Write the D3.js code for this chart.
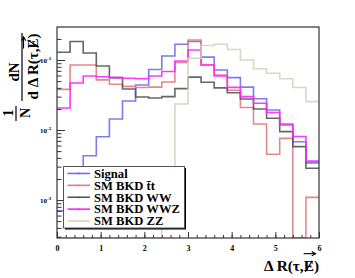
<!DOCTYPE html>
<html>
<head>
<meta charset="utf-8">
<script src="https://cdn.jsdelivr.net/npm/d3@7"></script>
<style>
  body { margin: 0; background: #fff; }
  text { font-family: "Liberation Serif", "Times New Roman", serif; font-weight: bold; }
</style>
</head>
<body>
<script>
// chart size (ROOT canvas look)
const width = 355;
const height = 278;
const frame = {left: 57, right: 319, top: 27, bottom: 238};

// bin low edges of Delta R
const bins = [0, 0.3, 0.6, 0.9, 1.2, 1.5, 1.8, 2.1, 2.4, 2.7,
              3.0, 3.3, 3.6, 3.9, 4.2, 4.5, 4.8, 5.1, 5.4, 5.7];

// normalised 1/N dN/dR (0 = empty bin)
const signal = [7.0e-4, 1.6e-3, 4.3e-3, 8.0e-3, 0.0144, 0.026, 0.044, 0.073, 0.114, 0.168,
                0.184, 0.110, 0.072, 0.056, 0.041, 0.028, 0.0193, 0.0122, 6.8e-3, 3.4e-3];
const ttbar  = [0.038, 0.085, 0.085, 0.052, 0.045, 0.042, 0.0405, 0.041, 0.0485, 0.092,
                0.193, 0.085, 0.061, 0.037, 0.021, 0.0122, 4.5e-3, 7.6e-3, 0, 1.09e-3];
const ww     = [0.129, 0.184, 0.126, 0.082, 0.056, 0.0385, 0.0296, 0.0287, 0.030, 0.039,
                0.057, 0.048, 0.040, 0.034, 0.0277, 0.020, 0.0147, 9.5e-3, 5.8e-3, 2.84e-3];
const wwz    = [0.0206, 0.047, 0.059, 0.0577, 0.056, 0.0548, 0.054, 0.059, 0.0685, 0.097,
                0.139, 0.085, 0.059, 0.0407, 0.030, 0.0241, 0.0178, 0.0118, 8.1e-3, 3.6e-3];
const zz     = [0, 0, 0, 0, 0, 0, 0, 0, 1.0e-3, 0.0235,
                0.106, 0.161, 0.168, 0.141, 0.100, 0.075, 0.0646, 0.054, 0.0405, 0.0254];

const legendNames = ["Signal", "SM BKD t\u0304t", "SM BKD WW", "SM BKD WWZ", "SM BKD ZZ"];
const xTicks = [0, 1, 2, 3, 4, 5, 6];
const yTicks = [1e-3, 1e-2, 1e-1];
const yTickLabels = ["-3", "-2", "-1"];

const series = [
  {name: legendNames[0], values: signal, color: "#6e6ef0"},
  {name: legendNames[1], values: ttbar,  color: "#e07c7c"},
  {name: legendNames[2], values: ww,     color: "#555555"},
  {name: legendNames[3], values: wwz,    color: "#ff22ff"},
  {name: legendNames[4], values: zz,     color: "#d6d1bb"}
];

const svg = d3.select("body").append("svg")
  .attr("width", width)
  .attr("height", height);

svg.append("rect").attr("width", width).attr("height", height).attr("fill", "#fff");

// scales
const x = d3.scaleLinear().domain([0, 6]).range([frame.left, frame.right]);
const y = d3.scaleLog().domain([2.87e-4, 0.296]).range([frame.bottom, frame.top]);

const yv = v => v > 0 ? y(v) : frame.bottom;

// clip for the histograms
svg.append("clipPath").attr("id", "clip")
  .append("rect")
  .attr("x", frame.left).attr("y", frame.top)
  .attr("width", frame.right - frame.left).attr("height", frame.bottom - frame.top);

// histogram steps
const line = d3.line()
  .x(d => x(d[0]))
  .y(d => yv(d[1]))
  .curve(d3.curveStepAfter);

const histG = svg.append("g").attr("clip-path", "url(#clip)");
series.forEach(s => {
  const pts = bins.map((b, i) => [b, s.values[i]]);
  pts.push([6, s.values[s.values.length - 1]]);
  histG.append("path")
    .attr("d", line(pts))
    .attr("fill", "none")
    .attr("stroke", s.color)
    .attr("stroke-width", 1.6)
    .attr("stroke-opacity", 0.9);
});

// x axis, ticks pointing inward
const xMinor = d3.range(0, 6.001, 0.2);
svg.append("g")
  .attr("transform", `translate(0,${frame.bottom})`)
  .call(d3.axisBottom(x).tickValues(xMinor).tickSize(-3).tickFormat(""))
  .call(g => g.select(".domain").remove())
  .call(g => g.selectAll("line").attr("stroke", "#333"));

svg.append("g")
  .attr("transform", `translate(0,${frame.bottom})`)
  .call(d3.axisBottom(x).tickValues(xTicks).tickSize(-6).tickPadding(4).tickFormat(d3.format("d")))
  .call(g => g.select(".domain").remove())
  .call(g => g.selectAll("line").attr("stroke", "#333"))
  .call(g => g.selectAll("text")
      .attr("font-size", 8)
      .attr("font-family", "Liberation Serif")
      .attr("font-weight", "bold")
      .attr("fill", "#000")
      .attr("y", 7));

// y axis (log)
const yMinor = [];
[1e-4, 1e-3, 1e-2, 1e-1].forEach(dec => {
  [2, 3, 4, 5, 6, 7, 8, 9].forEach(m => {
    const v = m * dec;
    if (v >= 2.87e-4 && v <= 0.296) yMinor.push(v);
  });
});
svg.append("g")
  .attr("transform", `translate(${frame.left},0)`)
  .call(d3.axisLeft(y).tickValues(yMinor).tickSize(-4.5).tickFormat(""))
  .call(g => g.select(".domain").remove())
  .call(g => g.selectAll("line").attr("stroke", "#333"));

svg.append("g")
  .attr("transform", `translate(${frame.left},0)`)
  .call(d3.axisLeft(y).tickValues(yTicks).tickSize(-8).tickFormat(""))
  .call(g => g.select(".domain").remove())
  .call(g => g.selectAll("line").attr("stroke", "#333"));

yTicks.forEach((t, i) => {
  const lab = svg.append("text")
    .attr("x", 40)
    .attr("y", y(t) + 2.5)
    .attr("font-size", 7);
  lab.append("tspan").text("10");
  lab.append("tspan").attr("dy", -3).attr("font-size", 5).text(yTickLabels[i]);
});

// frame
svg.append("rect")
  .attr("x", frame.left).attr("y", frame.top)
  .attr("width", frame.right - frame.left).attr("height", frame.bottom - frame.top)
  .attr("fill", "none")
  .attr("stroke", "#333")
  .attr("stroke-width", 1.2);

// E-slash + vector arrow on a text element, char index k
function slashVec(g, textNode, k, arrowGap) {
  const ext = textNode.getExtentOfChar(k);
  const cap = ext.height * 0.6;
  const base = ext.y + ext.height * 0.8;
  g.append("line")
    .attr("x1", ext.x + ext.width * 0.15).attr("y1", base + 1)
    .attr("x2", ext.x + ext.width * 0.85).attr("y2", base - cap - 1)
    .attr("stroke", "#000").attr("stroke-width", 1.1);
  const ay = base - cap - arrowGap;
  const ax0 = ext.x, ax1 = ext.x + ext.width + 1;
  g.append("line")
    .attr("x1", ax0).attr("y1", ay).attr("x2", ax1).attr("y2", ay)
    .attr("stroke", "#000").attr("stroke-width", 1.1);
  g.append("path")
    .attr("d", `M${ax1 - 3},${ay - 2.2} L${ax1 + 0.5},${ay} L${ax1 - 3},${ay + 2.2}`)
    .attr("fill", "none").attr("stroke", "#000").attr("stroke-width", 1.1);
}

// horizontal stretch so the text is targetW wide
function fitWidth(textNode, targetW) {
  const w = textNode.getComputedTextLength();
  return w > 0 ? targetW / w : 1;
}

// x title
const xt = svg.append("g");
const xtText = xt.append("text")
  .attr("x", 0).attr("y", 0)
  .attr("text-anchor", "end")
  .attr("font-size", 14)
  .text("\u0394 R(\u03c4,E)");
xt.attr("transform", `translate(319,271) scale(${fitWidth(xtText.node(), 55)},1)`);
slashVec(xt, xtText.node(), 6, 8);

// y title, rotated
function rot(cx, cy, s) { return `translate(${cx},${cy}) rotate(-90) scale(${s || 1},1)`; }

const g1 = svg.append("g").attr("transform", rot(13, 113));
g1.append("text").attr("text-anchor", "middle").attr("font-size", 14).text("1");
const g2 = svg.append("g").attr("transform", rot(30, 113));
g2.append("text").attr("text-anchor", "middle").attr("font-size", 14).text("N");
svg.append("line").attr("x1", 16).attr("x2", 16).attr("y1", 106).attr("y2", 121)
  .attr("stroke", "#000").attr("stroke-width", 1.2);

const g3 = svg.append("g").attr("transform", rot(19, 72));
g3.append("text").attr("text-anchor", "middle").attr("font-size", 15).text("dN");
svg.append("line").attr("x1", 22).attr("x2", 22).attr("y1", 33).attr("y2", 101)
  .attr("stroke", "#000").attr("stroke-width", 1.2);
const g4 = svg.append("g");
const dt = g4.append("text").attr("text-anchor", "middle").attr("font-size", 14)
  .text("d \u0394 R(\u03c4,E)");
g4.attr("transform", rot(38, 66.5, fitWidth(dt.node(), 66)));
slashVec(g4, dt.node(), 8, 5);

// legend
const leg = {x: 63.5, y: 166.5, w: 121, h: 61.5};
svg.append("rect")
  .attr("x", leg.x + 1.5).attr("y", leg.y + 1.5)
  .attr("width", leg.w).attr("height", leg.h)
  .attr("fill", "#000");
svg.append("rect")
  .attr("x", leg.x).attr("y", leg.y)
  .attr("width", leg.w).attr("height", leg.h)
  .attr("fill", "#fff")
  .attr("stroke", "#555")
  .attr("stroke-width", 1);

const rowY = d3.scaleBand().domain(d3.range(series.length))
  .range([leg.y + 1, leg.y + leg.h - 1]);

const legTexts = [];
series.forEach((s, i) => {
  const cy = rowY(i) + rowY.bandwidth() / 2;
  svg.append("line")
    .attr("x1", 67.5).attr("x2", 90)
    .attr("y1", cy).attr("y2", cy)
    .attr("stroke", s.color).attr("stroke-width", 1.6);
  svg.append("line")
    .attr("x1", 78.8).attr("x2", 78.8)
    .attr("y1", cy - 1).attr("y2", cy + 1)
    .attr("stroke", s.color).attr("stroke-width", 1);
  const tg = svg.append("g");
  const t = tg.append("text")
    .attr("x", 0).attr("y", 0)
    .attr("font-size", 12.5)
    .text(s.name);
  legTexts.push({g: tg, t: t, cy: cy});
});
// widest entry spans to the box edge in the reference
const ls = fitWidth(legTexts[3].t.node(), 86);
legTexts.forEach(d => d.g.attr("transform", `translate(94,${d.cy + 4.3}) scale(${ls},1)`));
</script>
</body>
</html>
